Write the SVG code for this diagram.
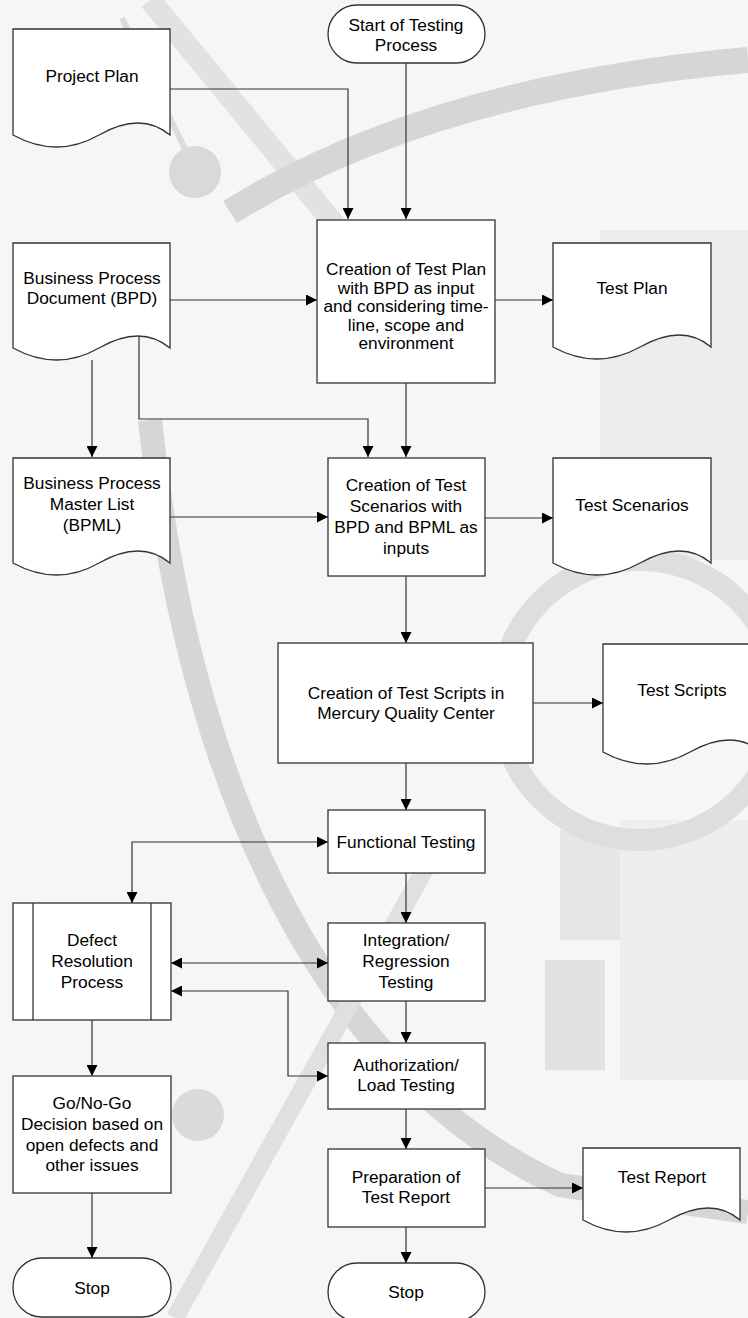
<svg xmlns="http://www.w3.org/2000/svg" width="748" height="1318" viewBox="0 0 748 1318">
<style>
.bg{fill:none;stroke-linecap:butt}
.n{fill:#fff;stroke:#333;stroke-width:1.3}
.t{font-family:"Liberation Sans",Arial,sans-serif;font-size:17.3px;fill:#000;text-anchor:middle}
.c{fill:none;stroke:#333;stroke-width:1.2}
</style>
<defs>
<marker id="ah" viewBox="0 0 10 10" refX="10" refY="5" markerWidth="12" markerHeight="11" markerUnits="userSpaceOnUse" orient="auto-start-reverse">
<path d="M0,0 L10,5 L0,10 z" fill="#000"/>
</marker>
</defs>
<!-- background decoration -->
<g id="background">
<rect x="0" y="0" width="748" height="1318" fill="#f6f6f6"/>
<rect x="600" y="230" width="148" height="330" fill="#ececec"/>
<rect x="560" y="830" width="60" height="110" fill="#e6e6e6"/>
<rect x="545" y="960" width="60" height="110" fill="#e2e2e2"/>
<rect x="620" y="820" width="128" height="260" fill="#eeeeee"/>
<path class="bg" d="M150,0 L335,225" stroke="#e2e2e2" stroke-width="22"/>
<path class="bg" d="M122,18 L195,170" stroke="#dcdcdc" stroke-width="6"/>
<circle cx="195" cy="172" r="26" fill="#d9d9d9"/>
<path class="bg" d="M230,212 Q430,88 748,60" stroke="#d6d6d6" stroke-width="26"/>
<path class="bg" d="M150,420 C190,800 330,1080 560,1185 L748,1212" stroke="#d6d6d6" stroke-width="24"/>
<path class="bg" d="M175,1318 L430,860" stroke="#e0e0e0" stroke-width="18"/>
<circle cx="198" cy="1115" r="26" fill="#dadada"/>
<circle cx="640" cy="700" r="140" fill="none" stroke="#dedede" stroke-width="22"/>
</g>
<!-- connectors -->
<g id="connectors" class="c">
<path class="c" d="M170,89 H348 V219" marker-end="url(#ah)"/>
<path class="c" d="M406,63 V219" marker-end="url(#ah)"/>
<path class="c" d="M170,300 H317" marker-end="url(#ah)"/>
<path class="c" d="M495,300 H553" marker-end="url(#ah)"/>
<path class="c" d="M92,360 V457" marker-end="url(#ah)"/>
<path class="c" d="M139,333 V419 H368 V457" marker-end="url(#ah)"/>
<path class="c" d="M406,383 V457" marker-end="url(#ah)"/>
<path class="c" d="M170,517 H328" marker-end="url(#ah)"/>
<path class="c" d="M485,518 H553" marker-end="url(#ah)"/>
<path class="c" d="M406,576 V643" marker-end="url(#ah)"/>
<path class="c" d="M533,703 H603" marker-end="url(#ah)"/>
<path class="c" d="M406,763 V810" marker-end="url(#ah)"/>
<path class="c" d="M328,842 H132 V903" marker-start="url(#ah)" marker-end="url(#ah)"/>
<path class="c" d="M406,873 V923" marker-end="url(#ah)"/>
<path class="c" d="M171,963 H328" marker-start="url(#ah)" marker-end="url(#ah)"/>
<path class="c" d="M171,991 H288 V1076 H328" marker-start="url(#ah)" marker-end="url(#ah)"/>
<path class="c" d="M406,1001 V1043" marker-end="url(#ah)"/>
<path class="c" d="M92,1020 V1076" marker-end="url(#ah)"/>
<path class="c" d="M406,1109 V1149" marker-end="url(#ah)"/>
<path class="c" d="M92,1193 V1258" marker-end="url(#ah)"/>
<path class="c" d="M485,1188 H583" marker-end="url(#ah)"/>
<path class="c" d="M406,1227 V1263" marker-end="url(#ah)"/>
</g>
<!-- nodes -->
<g id="start">
<rect class="n" x="328" y="5" width="157" height="58" rx="29" ry="29"/>
<text class="t" x="406" y="31">Start of Testing</text>
<text class="t" x="406" y="51">Process</text>
</g>
<g id="project-plan">
<path class="n" d="M13,135 V29 H170 V135 Q141,111 99,135 T13,135 Z"/>
<text class="t" x="92" y="82">Project Plan</text>
</g>
<g id="create-test-plan">
<rect class="n" x="317" y="220" width="178" height="163"/>
<text class="t" x="406" y="275">Creation of Test Plan</text>
<text class="t" x="406" y="294">with BPD as input</text>
<text class="t" x="406" y="312">and considering time-</text>
<text class="t" x="406" y="331">line, scope and</text>
<text class="t" x="406" y="349">environment</text>
</g>
<g id="bpd">
<path class="n" d="M13,348 V243 H170 V348 Q141,324 99,348 T13,348 Z"/>
<text class="t" x="92" y="284">Business Process</text>
<text class="t" x="92" y="304">Document (BPD)</text>
</g>
<g id="test-plan">
<path class="n" d="M553,347 V243 H711 V347 Q683,323 640,347 T553,347 Z"/>
<text class="t" x="632" y="294">Test Plan</text>
</g>
<g id="bpml">
<path class="n" d="M13,563 V458 H170 V563 Q141,539 99,563 T13,563 Z"/>
<text class="t" x="92" y="489">Business Process</text>
<text class="t" x="92" y="510">Master List</text>
<text class="t" x="92" y="531">(BPML)</text>
</g>
<g id="create-test-scenarios">
<rect class="n" x="328" y="458" width="157" height="118"/>
<text class="t" x="406" y="491">Creation of Test</text>
<text class="t" x="406" y="512">Scenarios with</text>
<text class="t" x="406" y="533">BPD and BPML as</text>
<text class="t" x="406" y="554">inputs</text>
</g>
<g id="test-scenarios">
<path class="n" d="M553,563 V458 H711 V563 Q683,539 640,563 T553,563 Z"/>
<text class="t" x="632" y="511">Test Scenarios</text>
</g>
<g id="create-test-scripts">
<rect class="n" x="278" y="643" width="255" height="120"/>
<text class="t" x="406" y="699">Creation of Test Scripts in</text>
<text class="t" x="406" y="719">Mercury Quality Center</text>
</g>
<g id="test-scripts">
<path class="n" d="M603,752 V644 H761 V752 Q733,728 690,752 T603,752 Z"/>
<text class="t" x="682" y="696">Test Scripts</text>
</g>
<g id="functional-testing">
<rect class="n" x="328" y="810" width="157" height="63"/>
<text class="t" x="406" y="848">Functional Testing</text>
</g>
<g id="defect-resolution">
<rect class="n" x="13" y="903" width="158" height="117"/>
<line class="n" x1="33" y1="903" x2="33" y2="1020"/>
<line class="n" x1="151" y1="903" x2="151" y2="1020"/>
<text class="t" x="92" y="946">Defect</text>
<text class="t" x="92" y="967">Resolution</text>
<text class="t" x="92" y="988">Process</text>
</g>
<g id="integration-testing">
<rect class="n" x="328" y="923" width="157" height="78"/>
<text class="t" x="406" y="946">Integration/</text>
<text class="t" x="406" y="967">Regression</text>
<text class="t" x="406" y="988">Testing</text>
</g>
<g id="authorization-testing">
<rect class="n" x="328" y="1043" width="157" height="66"/>
<text class="t" x="406" y="1071">Authorization/</text>
<text class="t" x="406" y="1091">Load Testing</text>
</g>
<g id="go-no-go">
<rect class="n" x="13" y="1076" width="158" height="117"/>
<text class="t" x="92" y="1109">Go/No-Go</text>
<text class="t" x="92" y="1130">Decision based on</text>
<text class="t" x="92" y="1151">open defects and</text>
<text class="t" x="92" y="1171">other issues</text>
</g>
<g id="preparation-report">
<rect class="n" x="328" y="1149" width="157" height="78"/>
<text class="t" x="406" y="1183">Preparation of</text>
<text class="t" x="406" y="1203">Test Report</text>
</g>
<g id="test-report">
<path class="n" d="M583,1220 V1148 H740 V1220 Q712,1196 669,1220 T583,1220 Z"/>
<text class="t" x="662" y="1183">Test Report</text>
</g>
<g id="stop-left">
<rect class="n" x="13" y="1258" width="158" height="59" rx="29" ry="29"/>
<text class="t" x="92" y="1294">Stop</text>
</g>
<g id="stop-right">
<rect class="n" x="328" y="1263" width="157" height="58" rx="29" ry="29"/>
<text class="t" x="406" y="1298">Stop</text>
</g>
</svg>
